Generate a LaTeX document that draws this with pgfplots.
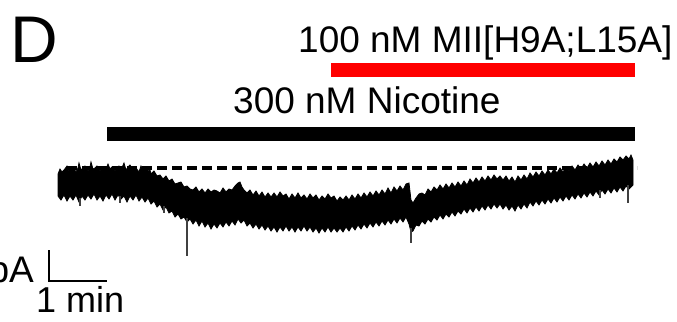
\documentclass[border=0pt]{standalone}
\usepackage{pgfplots}
\pgfplotsset{compat=1.18}
\usepackage{fontspec}
\setmainfont{Liberation Sans}
\begin{document}
\begin{tikzpicture}
\useasboundingbox (0,0) rectangle (677bp,322bp);
\clip (0,0) rectangle (677bp,322bp);
\begin{axis}[at={(0,0)},anchor=south west,scale only axis,width=677bp,height=322bp,
  xmin=0,xmax=677,ymin=0,ymax=322,y dir=reverse,hide axis,clip=false,
  unbounded coords=jump]
% trace band (upper envelope then lower envelope reversed), pixel units
\addplot[fill=black,draw=black,line width=0.8bp] coordinates {
(58,174)(60,169)(62,172)(64,170)(67,166)(69,171)(71,169)(73,167)(76,172)(78,168)(79,163)(81,170)(83,168)(85,166)(88,171)(90,167)(91,162)(93,169)(95,168)(97,166)(100,171)(103,167)(106,169)(108,164)(110,169)(112,167)(115,171)(117,168)(119,166)(121,170)(124,163)(126,170)(128,167)(130,165)(133,170)(136,168)(139,172)(141,166)(143,170)(145,168)(148,171)(150,170)(151,174)(154,171)(157,176)(160,175)(163,179)(166,176)(169,181)(172,179)(175,184)(178,183)(181,182)(184,187)(187,186)(190,189)(193,190)(196,187)(199,192)(202,189)(205,193)(208,189)(211,192)(214,190)(217,191)(220,193)(223,188)(226,192)(229,189)(232,190)(235,186)(238,183)(240,182)(242,187)(244,190)(247,193)(250,190)(253,195)(256,191)(259,196)(262,192)(265,197)(268,193)(271,197)(274,193)(277,197)(280,192)(283,196)(286,194)(289,199)(292,194)(295,198)(298,193)(301,198)(304,195)(307,199)(310,194)(313,198)(316,195)(319,200)(322,196)(325,199)(328,194)(331,198)(334,196)(337,201)(340,197)(343,200)(346,196)(349,200)(352,195)(355,199)(358,194)(361,198)(364,193)(367,197)(370,192)(373,196)(376,191)(379,195)(382,190)(385,194)(388,188)(391,193)(394,187)(397,191)(400,186)(403,190)(406,184)(409,183)(411,200)(413,203)(416,198)(419,194)(422,193)(425,195)(428,189)(431,192)(434,187)(437,190)(440,185)(443,189)(446,184)(449,188)(452,183)(455,187)(458,182)(461,186)(464,181)(467,185)(470,179)(473,183)(476,178)(479,182)(482,177)(485,181)(488,176)(491,180)(494,175)(497,179)(500,176)(503,180)(506,176)(509,181)(512,177)(515,182)(518,176)(521,180)(524,175)(527,179)(530,173)(533,177)(536,172)(539,176)(542,171)(545,175)(548,170)(551,174)(554,169)(557,173)(560,168)(563,172)(566,167)(569,171)(572,166)(575,170)(578,165)(581,169)(584,164)(587,168)(590,163)(593,167)(596,162)(599,166)(602,161)(605,165)(608,160)(611,164)(614,159)(617,162)(620,157)(623,160)(626,156)(629,159)(631,155)(633,160)
(633,185)(631,187)(629,189)(626,186)(623,191)(620,187)(617,192)(614,188)(611,193)(608,189)(605,194)(602,190)(599,195)(596,191)(593,196)(590,192)(587,197)(584,193)(581,198)(578,194)(575,199)(572,195)(569,200)(566,196)(563,201)(560,197)(557,202)(554,198)(551,203)(548,199)(545,204)(542,200)(539,205)(536,201)(533,206)(530,202)(527,208)(524,204)(521,209)(518,205)(515,211)(512,206)(509,210)(506,205)(503,209)(500,204)(497,208)(494,204)(491,209)(488,205)(485,210)(482,206)(479,211)(476,207)(473,212)(470,208)(467,213)(464,209)(461,214)(458,211)(455,216)(452,212)(449,217)(446,214)(443,219)(440,215)(437,220)(434,217)(431,222)(428,219)(425,224)(422,221)(419,226)(416,225)(413,231)(411,232)(409,224)(406,217)(403,222)(400,218)(397,223)(394,219)(391,224)(388,220)(385,225)(382,221)(379,226)(376,222)(373,227)(370,223)(367,228)(364,224)(361,229)(358,225)(355,230)(352,226)(349,231)(346,227)(343,232)(340,228)(337,232)(334,228)(331,232)(328,227)(325,232)(322,228)(319,233)(316,228)(313,232)(310,227)(307,231)(304,226)(301,231)(298,227)(295,232)(292,227)(289,231)(286,226)(283,231)(280,227)(277,232)(274,227)(271,231)(268,226)(265,230)(262,225)(259,229)(256,224)(253,228)(250,223)(247,226)(244,220)(241,223)(238,219)(235,225)(232,221)(229,226)(226,222)(223,227)(220,223)(217,228)(214,224)(211,229)(208,223)(205,227)(202,221)(199,226)(196,220)(193,224)(190,219)(187,222)(184,217)(181,219)(178,214)(175,217)(172,211)(169,213)(166,207)(163,210)(160,204)(157,207)(154,201)(151,204)(148,198)(145,202)(142,197)(139,201)(136,195)(133,200)(130,196)(127,202)(124,196)(121,199)(118,195)(115,200)(112,194)(109,199)(106,195)(103,201)(100,196)(97,200)(94,194)(91,199)(88,195)(85,200)(82,196)(79,202)(76,195)(73,200)(70,196)(67,201)(64,195)(61,200)(58,196)
} -- cycle;
% spikes
\addplot[black!75,line width=1.2bp] coordinates {
(187,218)(187,256)(187,nan)
(164,206)(164,213)(164,nan)
(80,198)(80,206)(80,nan)
(120,196)(120,203)(120,nan)
(411,228)(411,243)(411,nan)
(628,185)(628,203)(628,nan)
(600,190)(600,198)
};
% baseline (dashed)
\addplot[black,line width=3.6bp,dash pattern=on 10bp off 5bp] coordinates {(67,168)(637,168)};
% drug application bars
\addplot[fill=black,draw=none] coordinates {(107,127)(635,127)(635,141)(107,141)} -- cycle;
\addplot[fill=red,draw=none] coordinates {(331,63)(635,63)(635,77)(331,77)} -- cycle;
% scale bar
\addplot[black,line width=2.4bp] coordinates {(49,250)(49,281)(107,281)};
% labels
\node[anchor=base west,inner sep=0pt,font=\fontsize{66bp}{70bp}\selectfont] at (10,62) {D};
\node[anchor=base west,inner sep=0pt,font=\fontsize{37bp}{42bp}\selectfont] at (298,52) {100 nM MII[H9A;L15A]};
\node[anchor=base west,inner sep=0pt,font=\fontsize{37bp}{42bp}\selectfont] at (233,113) {300 nM Nicotine};
\node[anchor=base east,inner sep=0pt,font=\fontsize{37bp}{42bp}\selectfont] at (34,282) {20 pA};
\node[anchor=base west,inner sep=0pt,font=\fontsize{36bp}{41bp}\selectfont] at (36,312) {1 min};
\end{axis}
\end{tikzpicture}
\end{document}
